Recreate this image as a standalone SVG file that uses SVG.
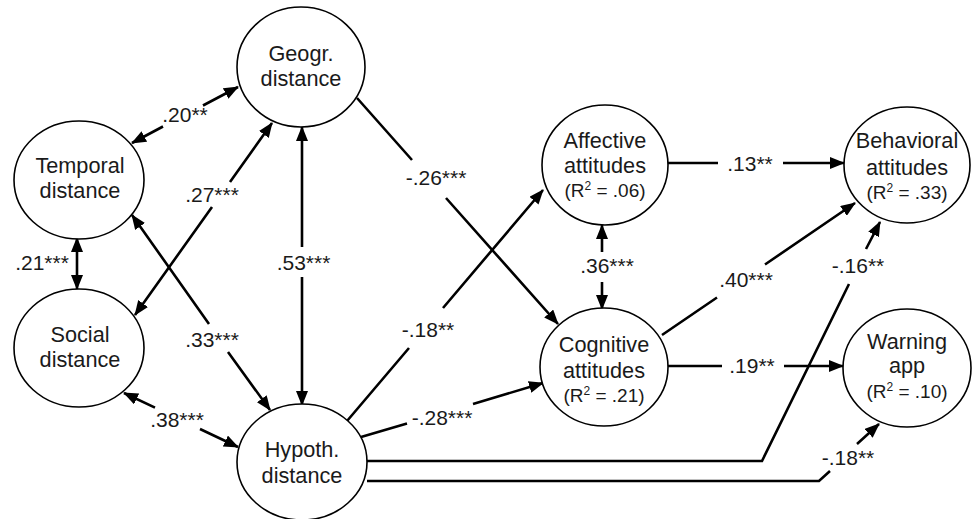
<svg xmlns="http://www.w3.org/2000/svg" width="972" height="519" viewBox="0 0 972 519">
<style>
.node{fill:#fff;stroke:#000;stroke-width:1.6}
.t{font-family:"Liberation Sans",Arial,sans-serif;font-size:21px;fill:#1a1a1a;text-anchor:middle}
.n{font-size:21.7px}
.r{font-size:19px}
.e{fill:none;stroke:#000;stroke-width:2.6}
.a2{marker-start:url(#ah);marker-end:url(#ah)}
.a1{marker-end:url(#ah)}
</style>
<defs>
<marker id="ah" viewBox="0 0 15 12" refX="14" refY="6" markerWidth="15" markerHeight="12" markerUnits="userSpaceOnUse" orient="auto-start-reverse">
<path d="M0,0 L15,6 L0,12 Z" fill="#000"/>
</marker>
</defs>
<rect width="972" height="519" fill="#fff"/>
<g id="connectors">
<path class="e a2" d="M132,143 L163,126.5 M203,105.5 L238,87"/>
<path class="e a2" d="M135,315 L212,207 M230,182 L272,123"/>
<path class="e a2" d="M132,215 L209,324 M228,352 L270,410"/>
<path class="e a2" d="M77,238 L77,289"/>
<path class="e a2" d="M302,127 L302,247 M302,277 L302,405"/>
<path class="e a2" d="M124,393 L155,407.7 M200,429 L238,447"/>
<path class="e a1" d="M357,98 L412,160 M446,198 L558,324"/>
<path class="e a1" d="M347,421 L409,348 M443,308 L543,190"/>
<path class="e a1" d="M361,437 L407,423.5 M473,404 L543,383"/>
<path class="e a2" d="M602,225 L602,252 M602,282 L602,309"/>
<path class="e a1" d="M668,163 L718,163 M783,163 L844,163"/>
<path class="e a1" d="M662,335 L717,297.5 M765,264.5 L855,203"/>
<path class="e a1" d="M668,366 L722,366 M784,366 L843,366"/>
<path class="e a1" d="M367,461 L762,461 L849,284 M866,249 L880,222"/>
<path class="e a1" d="M367,481 L819,481 L830,471 M857,444 L879,424"/>
<text class="t" x="185" y="122">.20**</text>
<text class="t" x="212" y="202">.27***</text>
<text class="t" x="212" y="347">.33***</text>
<text class="t" x="42" y="270">.21***</text>
<text class="t" x="303.5" y="270">.53***</text>
<text class="t" x="177" y="427">.38***</text>
<text class="t" x="436" y="185">-.26***</text>
<text class="t" x="428" y="337">-.18**</text>
<text class="t" x="442" y="425">-.28***</text>
<text class="t" x="607" y="273">.36***</text>
<text class="t" x="750" y="171">.13**</text>
<text class="t" x="746" y="287">.40***</text>
<text class="t" x="752" y="373">.19**</text>
<text class="t" x="858" y="273">-.16**</text>
<text class="t" x="848" y="465">-.18**</text>
</g>
<g id="geogr">
<ellipse class="node" cx="301" cy="67" rx="64" ry="60"/>
<text class="t n" x="301" y="61">Geogr.</text>
<text class="t n" x="301" y="86">distance</text>
</g>
<g id="temporal">
<ellipse class="node" cx="79" cy="180" rx="65" ry="59"/>
<text class="t n" x="80" y="173">Temporal</text>
<text class="t n" x="80" y="198">distance</text>
</g>
<g id="social">
<ellipse class="node" cx="79" cy="348" rx="65" ry="59"/>
<text class="t n" x="80" y="342">Social</text>
<text class="t n" x="80" y="367">distance</text>
</g>
<g id="hypoth">
<ellipse class="node" cx="302" cy="462" rx="65" ry="58"/>
<text class="t n" x="302" y="457">Hypoth.</text>
<text class="t n" x="302" y="483">distance</text>
</g>
<g id="affective">
<ellipse class="node" cx="605" cy="165" rx="63" ry="60"/>
<text class="t n" x="605" y="148">Affective</text>
<text class="t n" x="605" y="173">attitudes</text>
<text class="t r" x="605" y="197">(R<tspan font-size="12" dy="-7">2</tspan><tspan dy="7"> = .06)</tspan></text>
</g>
<g id="cognitive">
<ellipse class="node" cx="604" cy="367" rx="64" ry="59"/>
<text class="t n" x="604" y="352">Cognitive</text>
<text class="t n" x="604" y="378">attitudes</text>
<text class="t r" x="604" y="402">(R<tspan font-size="12" dy="-7">2</tspan><tspan dy="7"> = .21)</tspan></text>
</g>
<g id="behavioral">
<ellipse class="node" cx="907" cy="165" rx="63" ry="58"/>
<text class="t n" x="907" y="148">Behavioral</text>
<text class="t n" x="907" y="175">attitudes</text>
<text class="t r" x="907" y="199">(R<tspan font-size="12" dy="-7">2</tspan><tspan dy="7"> = .33)</tspan></text>
</g>
<g id="warning">
<ellipse class="node" cx="907" cy="368" rx="64" ry="59"/>
<text class="t n" x="907" y="349">Warning</text>
<text class="t n" x="907" y="373">app</text>
<text class="t r" x="907" y="398">(R<tspan font-size="12" dy="-7">2</tspan><tspan dy="7"> = .10)</tspan></text>
</g>
</svg>
